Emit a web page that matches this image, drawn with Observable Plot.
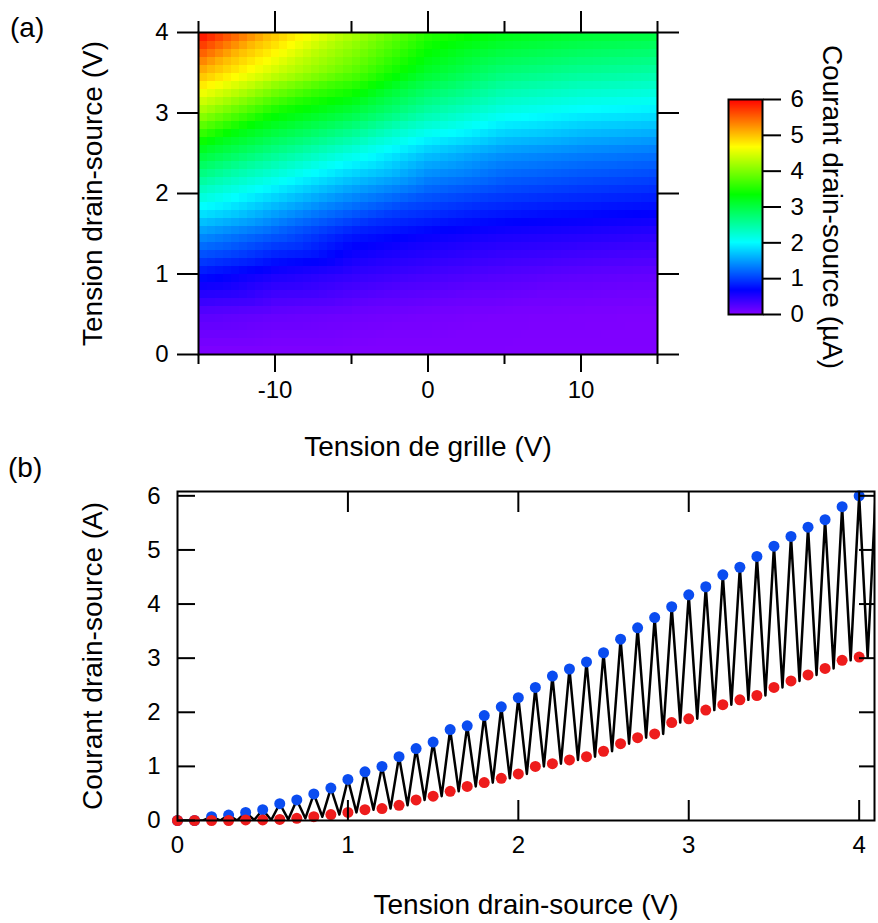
<!DOCTYPE html>
<html>
<head>
<meta charset="utf-8">
<script src="https://cdn.jsdelivr.net/npm/d3@7"></script>
<script src="https://cdn.jsdelivr.net/npm/@observablehq/plot@0.6"></script>
<style>
  body { margin: 0; background: #fff; }
  #root { position: relative; width: 878px; height: 923px; overflow: hidden; background: #fff;
          font-family: "Liberation Sans", Arial, sans-serif; color: #000; }
  .panel-tag { position: absolute; font-size: 28px; line-height: 28px; }
  svg image { image-rendering: pixelated; }
</style>
</head>
<body>
<div id="root"></div>
<script>
// ---------- Panel (a): current map (µA) ----------
const gateVoltages = [-15, -10, -5, 0, 5, 10, 15];
const vdsLevels = [0, 0.5, 1, 1.5, 2, 2.5, 3, 3.5, 4];
// rows follow vdsLevels, columns follow gateVoltages
const currentMap = [
  [0.00, 0.00, 0.00, 0.00, 0.00, 0.00, 0.00],
  [0.20, 0.14, 0.10, 0.06, 0.03, 0.02, 0.01],
  [0.76, 0.55, 0.42, 0.32, 0.24, 0.18, 0.15],
  [1.45, 1.15, 0.80, 0.65, 0.55, 0.50, 0.45],
  [2.27, 1.85, 1.45, 1.15, 1.00, 0.92, 0.86],
  [3.10, 2.60, 2.15, 1.70, 1.45, 1.35, 1.28],
  [4.17, 3.40, 3.00, 2.45, 2.10, 1.95, 1.88],
  [5.07, 4.40, 3.80, 3.10, 2.70, 2.55, 2.46],
  [6.00, 5.00, 4.25, 3.55, 3.25, 3.10, 3.02]
];
const gateMajorTicks = [-10, 0, 10];
const gateMinorTicks = [-15, -5, 5, 15];
const vdsTicksA = [0, 1, 2, 3, 4];
const colorTicks = [0, 1, 2, 3, 4, 5, 6];

// ---------- Panel (b): current vs drain-source voltage ----------
const vdsSweep = [0.0,0.1,0.2,0.3,0.4,0.5,0.6,0.7,0.8,0.9,1.0,1.1,1.2,1.3,1.4,1.5,1.6,1.7,1.8,1.9,2.0,
                  2.1,2.2,2.3,2.4,2.5,2.6,2.7,2.8,2.9,3.0,3.1,3.2,3.3,3.4,3.5,3.6,3.7,3.8,3.9,4.0];
const peakCurrent = [0,0,0.07,0.10,0.15,0.20,0.31,0.38,0.49,0.60,0.76,0.90,1.00,1.18,1.33,1.45,1.68,1.75,1.94,2.10,2.27,
                     2.46,2.67,2.80,2.93,3.10,3.35,3.56,3.75,3.95,4.17,4.32,4.54,4.68,4.88,5.07,5.25,5.42,5.56,5.80,6.00];
const valleyCurrent = [0,0,0,0,0.01,0.01,0.02,0.04,0.07,0.11,0.15,0.20,0.22,0.28,0.38,0.45,0.54,0.63,0.70,0.78,0.86,
                       1.00,1.05,1.12,1.18,1.28,1.42,1.53,1.60,1.81,1.88,2.04,2.14,2.23,2.31,2.46,2.58,2.69,2.81,2.96,3.02];
const valleyShift = 0.05;          // valley sits half a step after each peak
const tailPoint = {x: 4.1, y: 6.25}; // last rising edge, clipped by the frame
const vdsTicksB = [0, 1, 2, 3, 4];
const currentTicksB = [0, 1, 2, 3, 4, 5, 6];

const FONT = '"Liberation Sans", Arial, sans-serif';
const BLUE = "#0a4cf0";
const RED = "#ee1c1c";
const colorScale = {type: "linear", domain: [0, 6], range: ["#8000ff", "#ff0000"], interpolate: d3.interpolateHslLong};

// tables built from the arrays
const samples = [];
vdsLevels.forEach((v, r) => gateVoltages.forEach((g, c) => samples.push({vg: g, vds: v, i: currentMap[r][c]})));
const sweepPts = vdsSweep.map((v, k) => ({vds: v, max: peakCurrent[k], min: valleyCurrent[k]}));
const tracePts = [];
sweepPts.forEach(d => { tracePts.push({x: d.vds, y: d.max}); tracePts.push({x: d.vds + valleyShift, y: d.min}); });
tracePts.push(tailPoint);

const root = document.getElementById("root");
function place(el, left, top) { el.style.position = "absolute"; el.style.left = left + "px"; el.style.top = top + "px"; root.appendChild(el); }
const baseStyle = {fontFamily: FONT, fontSize: "24px", color: "#000", background: "transparent", overflow: "visible"};

// ----- plot (a)
const plotA = Plot.plot({
  width: 878, height: 470,
  marginLeft: 198, marginRight: 221, marginTop: 32, marginBottom: 116,
  style: baseStyle,
  x: {domain: [-15, 15]},
  y: {domain: [0, 4]},
  color: colorScale,
  marks: [
    Plot.raster(samples, {x: "vg", y: "vds", fill: "i", interpolate: "barycentric",
      x1: -15, x2: 15, y1: 0, y2: 4, width: 57, height: 40, imageRendering: "pixelated"}),
    Plot.frame({stroke: "#000", strokeWidth: 2}),
    Plot.axisX(gateMajorTicks, {anchor: "bottom", tickSize: 18, tickPadding: 8, strokeWidth: 2, tickFormat: d => String(d), label: null}),
    Plot.axisX(gateMinorTicks, {anchor: "bottom", tickSize: 10, strokeWidth: 2, fill: "none"}),
    Plot.axisX(gateMajorTicks, {anchor: "top", tickSize: 22, strokeWidth: 2, fill: "none"}),
    Plot.axisX(gateMinorTicks, {anchor: "top", tickSize: 12, strokeWidth: 2, fill: "none"}),
    Plot.axisY(vdsTicksA, {anchor: "left", tickSize: 21, tickPadding: 9, strokeWidth: 2, tickFormat: d => String(d), label: null}),
    Plot.axisY(vdsTicksA, {anchor: "right", tickSize: 21, strokeWidth: 2, fill: "none"}),
    Plot.text(["Tension de grille (V)"], {text: d => d, frameAnchor: "bottom", textAnchor: "middle", lineAnchor: "bottom", dy: 101, fontSize: 28}),
    Plot.text(["Tension drain-source (V)"], {text: d => d, frameAnchor: "left", textAnchor: "middle", rotate: -90, lineAnchor: "top", dx: -116, fontSize: 28})
  ]
});
place(plotA, 0, 0);

// ----- colour bar
const plotC = Plot.plot({
  width: 170, height: 360,
  marginLeft: 28, marginRight: 108, marginTop: 69, marginBottom: 76,
  style: baseStyle,
  x: {domain: [0, 1], axis: null},
  y: {domain: [0, 6]},
  color: colorScale,
  marks: [
    Plot.raster({fill: (x, y) => y, x1: 0, x2: 1, y1: 0, y2: 6, width: 1, height: 215}),
    Plot.frame({stroke: "#000", strokeWidth: 2}),
    Plot.axisY(colorTicks, {anchor: "right", tickSize: 18, tickPadding: 10, strokeWidth: 2, tickFormat: d => String(d), label: null}),
    Plot.text(["Courant drain-source (\u00b5A)"], {text: d => d, frameAnchor: "right", textAnchor: "middle", rotate: 90, lineAnchor: "top", dx: 80, fontSize: 28})
  ]
});
place(plotC, 700, 30);

// ----- plot (b)
const plotB = Plot.plot({
  width: 878, height: 453,
  marginLeft: 177, marginRight: 4, marginTop: 21, marginBottom: 103,
  style: baseStyle,
  x: {domain: [0, 4.09]},
  y: {domain: [0, 6.08]},
  marks: [
    Plot.line(tracePts, {x: "x", y: "y", stroke: "#000", strokeWidth: 2.5, clip: true}),
    Plot.dot(sweepPts, {x: "vds", y: "max", r: 5.5, fill: BLUE}),
    Plot.dot(sweepPts, {x: "vds", y: "min", r: 5.5, fill: RED}),
    Plot.frame({stroke: "#000", strokeWidth: 2}),
    Plot.axisY(currentTicksB, {anchor: "left", tickSize: 18, dx: 18, strokeWidth: 2, fill: "none"}),
    Plot.axisY(currentTicksB, {anchor: "left", tickSize: 0, tickPadding: 17, tickFormat: d => String(d), label: null}),
    Plot.axisY(currentTicksB.slice(1), {anchor: "right", tickSize: 16, dx: -16, strokeWidth: 2, fill: "none"}),
    Plot.axisX(vdsTicksB.slice(1), {anchor: "bottom", tickSize: 20, dy: -20, strokeWidth: 2, fill: "none"}),
    Plot.axisX(vdsTicksB, {anchor: "bottom", tickSize: 0, tickPadding: 15, tickFormat: d => String(d), label: null}),
    Plot.axisX(vdsTicksB.slice(1), {anchor: "top", tickSize: 20, dy: 20, strokeWidth: 2, fill: "none"}),
    Plot.text(["Tension drain-source (V)"], {text: d => d, frameAnchor: "bottom", textAnchor: "middle", lineAnchor: "bottom", dy: 93, fontSize: 28}),
    Plot.text(["Courant drain-source (A)"], {text: d => d, frameAnchor: "left", textAnchor: "middle", rotate: -90, lineAnchor: "top", dx: -95, fontSize: 28})
  ]
});
place(plotB, 0, 470);

// panel tags
for (const [t, l, tp] of [["(a)", 10, 14], ["(b)", 8, 454]]) {
  const d = document.createElement("div");
  d.className = "panel-tag";
  d.textContent = t;
  d.style.left = l + "px"; d.style.top = tp + "px";
  root.appendChild(d);
}
</script>
</body>
</html>
